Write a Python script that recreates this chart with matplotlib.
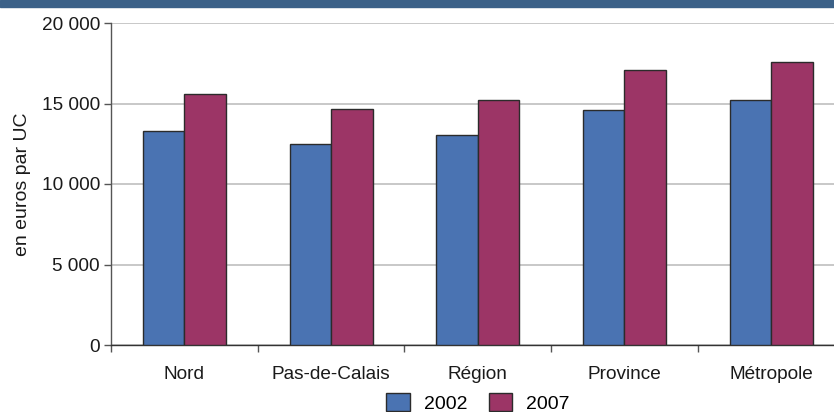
import matplotlib
matplotlib.use("Agg")
import matplotlib.pyplot as plt
import numpy as np
from matplotlib.patches import Rectangle

plt.rcParams['font.family'] = ['Liberation Sans', 'DejaVu Sans']

categories = ["Nord", "Pas-de-Calais", "Région", "Province", "Métropole"]
series_names = ["2002", "2007"]
values_2002 = [13300, 12500, 13050, 14600, 15200]
values_2007 = [15600, 14650, 15200, 17050, 17550]
yticks = [0, 5000, 10000, 15000, 20000]
ytick_labels = ["0", "5 000", "10 000", "15 000", "20 000"]

col_2002 = "#4a73b2"
col_2007 = "#9c3566"

fig = plt.figure(figsize=(8.34, 4.12), dpi=100)
# top band
fig.add_artist(Rectangle((0, 1 - 7/412), 1, 7/412, transform=fig.transFigure,
                         color="#3b6188", zorder=10))

ax_w = 844.5 - 111
ax = fig.add_axes([111/834, (412-345)/412, ax_w/834, (345-23)/412])
x = np.arange(len(categories))
w = 0.283
ax.bar(x - w/2, values_2002, w, color=col_2002, edgecolor="#2b2b2b", linewidth=1.0,
       label=series_names[0], zorder=3)
ax.bar(x + w/2, values_2007, w, color=col_2007, edgecolor="#2b2b2b", linewidth=1.0,
       label=series_names[1], zorder=3)

ax.set_xlim(-0.5, len(categories) - 0.5)
ax.set_ylim(0, 20000)
ax.set_yticks(yticks)
ax.set_yticklabels(ytick_labels, fontsize=13.7, color="#1a1a1a")
ax.yaxis.grid(True, color="#c4c4c4", linewidth=1.3, zorder=0)
ax.set_axisbelow(True)

ax.set_xticks(np.arange(-0.5, len(categories) + 0.5, 1.0))
ax.set_xticklabels([])
ax.set_xticks(x, minor=True)
ax.set_xticklabels(categories, minor=True, fontsize=13.7, color="#1a1a1a")
ax.tick_params(axis='x', which='minor', length=0, pad=15)
ax.tick_params(axis='x', which='major', length=5, width=1, color="#555555", direction='out')
ax.tick_params(axis='y', length=5, width=1, color="#555555", pad=3)

for s in ["top", "right"]:
    ax.spines[s].set_visible(False)
ax.spines["left"].set_color("#555555")
ax.spines["bottom"].set_color("#333333")
ax.spines["left"].set_linewidth(1.0)
ax.spines["bottom"].set_linewidth(1.0)

ax.set_ylabel("en euros par UC", fontsize=14, color="#1a1a1a")
ax.yaxis.set_label_coords((31 - 111) / ax_w, 0.5)

handles, labels = ax.get_legend_handles_labels()
fig.legend(handles, labels, loc="center", bbox_to_anchor=(478/834, 1 - 403/412),
           ncol=2, frameon=False, fontsize=14, handlelength=1.2, handleheight=1.05,
           columnspacing=1.1, handletextpad=0.72, borderaxespad=0, borderpad=0)

fig.savefig("out.png", dpi=100)
